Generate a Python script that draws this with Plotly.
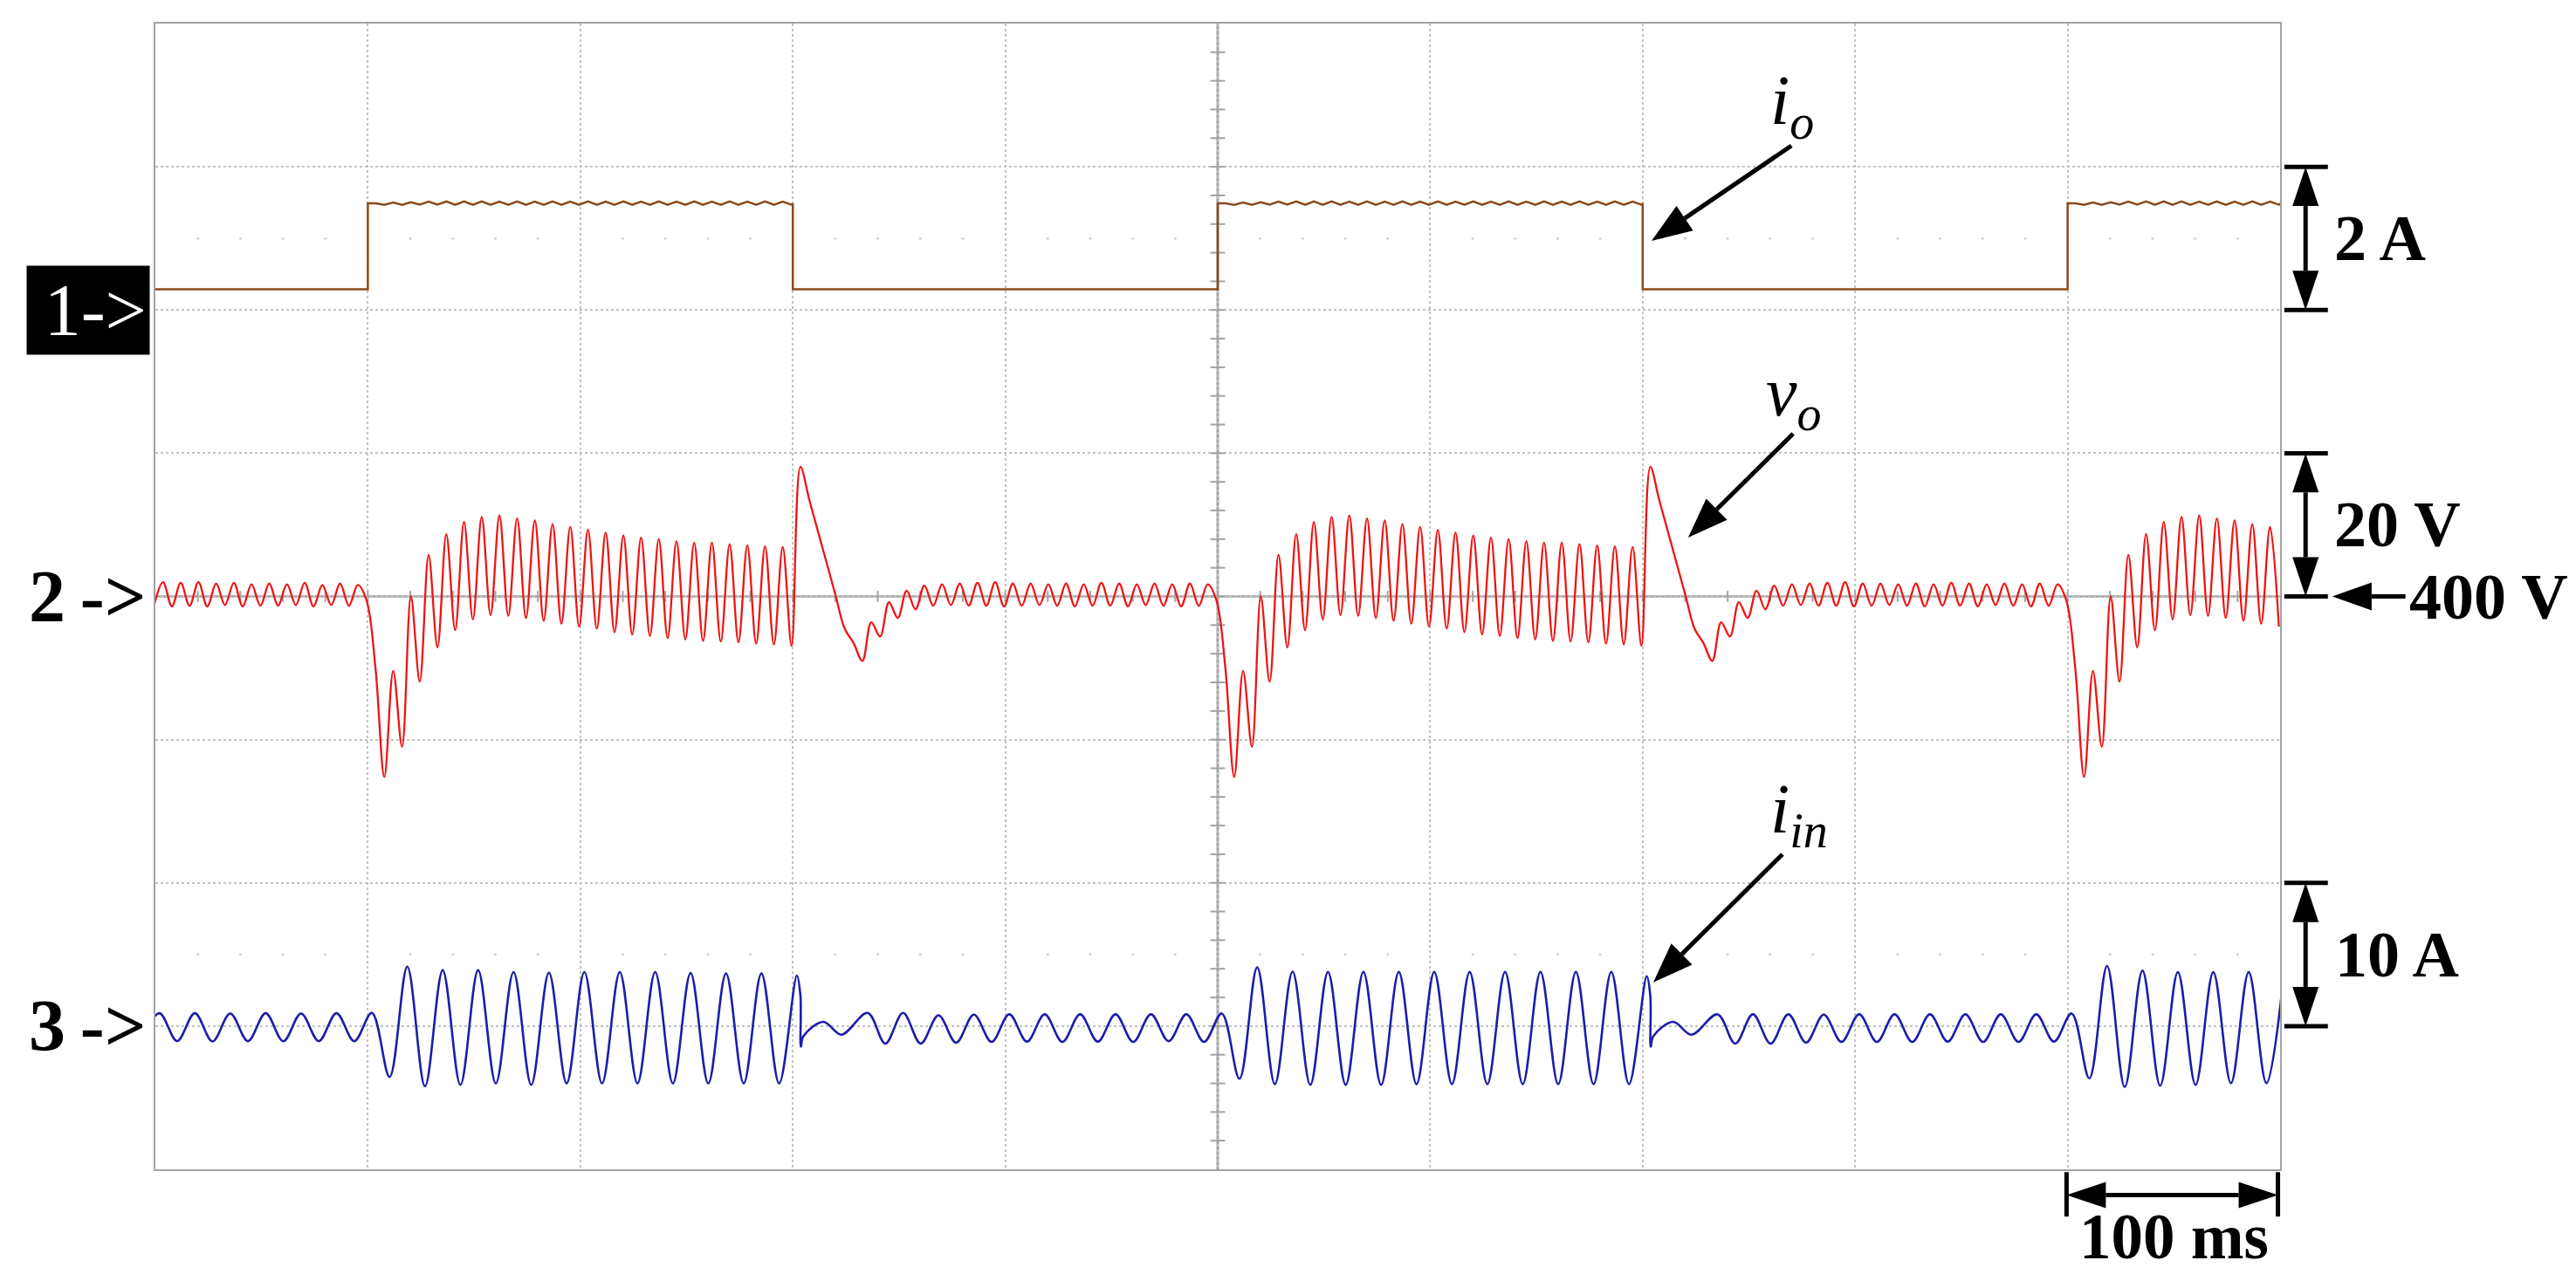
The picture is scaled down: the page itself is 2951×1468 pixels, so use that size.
import math
import plotly.graph_objects as go

# ---------------- layout geometry (page body adds an 8 px margin) ----------------
W, H = 2935, 1452
ML, MT = 170, 19
PW, PH = 2434, 1313
MR, MB = W - ML - PW, H - MT - PH

# ---------------- data ----------------
T_SPAN = 1000.0                    # ms, 10 div x 100 ms
STEP_UP = [100, 500, 900]          # load step-up instants (ms)
STEP_DOWN = [300, 700]             # load step-down instants (ms)

# output current i_o (A), 2 A/div
IO_LOW = 0.29
IO_HIGH = 1.49
IO_HIGH_RIPPLE = [1.49, 1.47, 1.50, 1.47, 1.505, 1.472, 1.512, 1.472, 1.515, 1.47,
                  1.515, 1.47, 1.515, 1.47, 1.514, 1.47, 1.515, 1.47, 1.513, 1.47,
                  1.515, 1.47, 1.514, 1.47, 1.515, 1.47, 1.514, 1.47, 1.515, 1.47,
                  1.513, 1.47, 1.515, 1.47, 1.514, 1.47, 1.515, 1.47, 1.514, 1.47,
                  1.515, 1.47, 1.513, 1.47, 1.515, 1.47, 1.514, 1.47]

# output voltage v_o (V), 20 V/div, extrema every half ripple period (120 Hz)
VO_T0 = -0.57
VO_HALF = 1000.0 / 240.0
VO_START = [398.8, 402.0, 398.6, 401.9, 398.7, 402.0, 398.6, 401.8, 398.8, 401.9,
            398.6, 401.7, 398.7, 401.8, 398.7, 401.7, 398.8, 401.9, 398.6, 401.6,
            398.8, 401.8, 398.7, 401.6, 399.4]
VO_STEP_UP = [390.0, 374.8, 389.6, 379.0, 400.0, 388.1, 405.8, 392.9, 408.7, 395.3,
              410.4, 396.8, 411.1, 397.4, 411.3, 397.3, 410.9, 397.0, 410.6, 396.6,
              410.1, 396.2, 409.7, 395.8, 409.3, 395.5, 408.9, 395.0, 408.5, 394.7,
              408.2, 394.5, 408.0, 394.2, 407.7, 394.0, 407.5, 393.8, 407.5, 393.7,
              407.3, 393.6, 407.1, 393.4, 407.0, 393.3, 406.9, 393.1]
VO_STEP_DOWN = [418.1, 413.5, 409.0, 404.5, 400.0, 395.5, 393.5, 391.0, 396.4, 394.4,
                399.2, 397.0, 400.8, 398.2, 401.5, 398.7, 401.7, 398.8, 401.8, 398.7,
                401.9, 398.7, 402.0, 398.6, 401.8, 398.7, 401.8, 398.8, 401.7, 398.7,
                401.8, 398.6, 401.7, 398.7, 401.9, 398.7, 401.8, 398.6, 401.7, 398.8,
                401.8, 398.7, 401.7, 398.6, 401.8, 398.7, 401.7, 399.4]

# input current i_in (A), 10 A/div, extrema every half line period (60 Hz)
IIN_T0 = 1.9
IIN_HALF = 1000.0 / 120.0
IIN_LOW_A = [-1.05, 0.9, -1.05, 0.9, -1.07, 0.88, -1.05, 0.9, -1.06, 0.88, -1.05, 0.9, -1.05, 0.92]
IIN_HIGH_A = [-3.55, 4.15, -4.2, 3.9, -4.1, 3.9, -4.0, 3.77, -4.1, 3.72, -4.0, 3.77,
              -4.0, 3.77, -4.0, 3.77, -4.0, 3.7, -4.0, 3.67, -4.0, 3.67, -4.0, 3.53]
IIN_DROP_DT = [3.6, 3.8, 5.0, 14.4, 22.9]
IIN_DROP_V = [2.1, -1.43, -0.71, 0.3, -0.6]
IIN_LOW_B = [0.92, -1.22, 0.92, -1.22, 0.75, -1.16, 0.8, -1.1, 0.82, -1.08, 0.82,
             -1.1, 0.82, -1.08, 0.82, -1.1, 0.82, -1.05, 0.82, -1.1, 0.88]
IIN_HIGH_B = [-3.67, 4.1, -4.05, 3.8, -4.1, 3.78, -4.1, 3.78, -4.1, 3.78, -4.05, 3.78,
              -4.05, 3.78, -4.05, 3.78, -4.05, 3.78, -4.05, 3.78, -4.05, 3.78, -4.05, 3.47]
IIN_LOW_C = [0.82, -1.22, 0.82, -1.22, 0.82, -1.15, 0.8, -1.1, 0.82, -1.1, 0.82,
             -1.1, 0.82, -1.08, 0.82, -1.1, 0.82, -1.1, 0.82, -1.08, 0.88]
IIN_HIGH_C = [-3.65, 4.2, -4.25, 3.87, -4.16, 3.76, -4.1, 3.76, -3.98, 3.76, -3.98, 3.8]

# channel scales
IO_PER_DIV, IO_REF_DIV = 2.0, 2.0
VO_PER_DIV, VO_REF, VO_REF_DIV = 20.0, 400.0, 0.0
IIN_PER_DIV, IIN_REF_DIV = 10.0, -3.0

# ---------------- assemble traces ----------------
vo_vals = VO_START + VO_STEP_UP + VO_STEP_DOWN + VO_STEP_UP + VO_STEP_DOWN + VO_STEP_UP[:24]
vo_t = [VO_T0 + k * VO_HALF for k in range(len(vo_vals))]

io_t, io_v = [0.0], [IO_LOW]
n_up = [48, 48, 24]
for i, tu in enumerate(STEP_UP):
    io_t += [tu, tu]
    io_v += [IO_LOW, IO_HIGH]
    k0 = int(round((tu + 3.6 - VO_T0) / VO_HALF))
    for m in range(n_up[i]):
        io_t.append(VO_T0 + (k0 + m) * VO_HALF)
        io_v.append(IO_HIGH_RIPPLE[m])
    if i < len(STEP_DOWN):
        td = STEP_DOWN[i]
        io_t += [td, td]
        io_v += [IO_HIGH, IO_LOW]
io_t.append(T_SPAN)
io_v.append(IO_HIGH)

iin_t, iin_v = [], []


def add_slots(j0, vals):
    for i, val in enumerate(vals):
        iin_t.append(IIN_T0 + (j0 + i) * IIN_HALF)
        iin_v.append(val)


def add_drop(t_step):
    for dt, val in zip(IIN_DROP_DT, IIN_DROP_V):
        iin_t.append(t_step + dt)
        iin_v.append(val)


add_slots(-1, IIN_LOW_A)
add_slots(13, IIN_HIGH_A)
add_drop(STEP_DOWN[0])
add_slots(40, IIN_LOW_B)
add_slots(61, IIN_HIGH_B)
add_drop(STEP_DOWN[1])
add_slots(88, IIN_LOW_C)
add_slots(109, IIN_HIGH_C)

# ---------------- figure ----------------
fig = go.Figure()

GRID = "#c2c2c2"
FRAME = "#a3a3a3"
SERIF = "Liberation Serif"

# decorative scope ticks / dots
tick_y = [i * 0.2 for i in range(-19, 20)]
fig.add_trace(go.Scatter(x=[500] * len(tick_y), y=tick_y, mode="markers",
                         marker=dict(symbol="line-ew", size=12, line=dict(width=2, color=FRAME)),
                         hoverinfo="skip", showlegend=False))
tick_x = [20 * i for i in range(1, 50)]
fig.add_trace(go.Scatter(x=tick_x, y=[0] * len(tick_x), mode="markers",
                         marker=dict(symbol="line-ns", size=9, line=dict(width=2, color=FRAME)),
                         hoverinfo="skip", showlegend=False))
dot_x = [20 * i for i in range(1, 50) if i % 5 != 0]
fig.add_trace(go.Scatter(x=dot_x + dot_x, y=[2.5] * len(dot_x) + [-2.5] * len(dot_x), mode="markers",
                         marker=dict(symbol="circle", size=3, color="#d2d2d2"),
                         hoverinfo="skip", showlegend=False))

fig.add_trace(go.Scatter(x=io_t, y=io_v, mode="lines", yaxis="y2",
                         line=dict(color="#8b4a1c", width=2.5), showlegend=False))
fig.add_trace(go.Scatter(x=vo_t, y=vo_vals, mode="lines", yaxis="y3",
                         line=dict(color="#ee1414", width=2.3, shape="spline", smoothing=1.0),
                         showlegend=False))
fig.add_trace(go.Scatter(x=iin_t, y=iin_v, mode="lines", yaxis="y4",
                         line=dict(color="#1d1daa", width=2.6, shape="spline", smoothing=1.0),
                         showlegend=False))

shapes = []
# solid centre cross lines
shapes.append(dict(type="line", xref="x", yref="y", x0=0, x1=T_SPAN, y0=0, y1=0,
                   line=dict(color=FRAME, width=2.5), layer="below"))
shapes.append(dict(type="line", xref="x", yref="y", x0=500, x1=500, y0=-4, y1=4,
                   line=dict(color=FRAME, width=3), layer="below"))


def to_px(ms, d):
    return ms * PW / T_SPAN, (d + 4) * PH / 8.0


def pp(X, Y):
    return X / PW, Y / PH


def paper_x(ms):
    return ms / T_SPAN


def paper_y(d):
    return (d + 4) / 8.0


def head(tip, frm, L, hw):
    tx, ty = to_px(*tip)
    fx, fy = to_px(*frm)
    dx, dy = tx - fx, ty - fy
    n = math.hypot(dx, dy)
    ux, uy = dx / n, dy / n
    bx, by = tx - L * ux, ty - L * uy
    c1 = (bx - hw * uy, by + hw * ux)
    c2 = (bx + hw * uy, by - hw * ux)
    pts = [pp(tx, ty), pp(*c1), pp(*c2)]
    path = "M {:.5f},{:.5f} L {:.5f},{:.5f} L {:.5f},{:.5f} Z".format(*pts[0], *pts[1], *pts[2])
    shapes.append(dict(type="path", xref="paper", yref="paper", path=path,
                       fillcolor="black", line=dict(width=0), layer="above"))
    return bx, by


def seg(X0, Y0, X1, Y1, w=5):
    a, b = pp(X0, Y0)
    c, d = pp(X1, Y1)
    shapes.append(dict(type="line", xref="paper", yref="paper", x0=a, y0=b, x1=c, y1=d,
                       line=dict(color="black", width=w), layer="above"))


def arrow(start, tip, L=46, hw=17, w=5):
    bx, by = head(tip, start, L, hw)
    sx, sy = to_px(*start)
    seg(sx, sy, bx, by, w)


def double_arrow(p0, p1, L=45, hw=15, w=5):
    b0 = head(p0, p1, L, hw)
    b1 = head(p1, p0, L, hw)
    seg(b0[0], b0[1], b1[0], b1[1], w)


def cap(p0, p1, w=5):
    a = to_px(*p0)
    b = to_px(*p1)
    seg(a[0], a[1], b[0], b[1], w)


# vertical scale bars on the right
BAR_X, CAP_X0, CAP_X1 = 1012.0, 1002.0, 1022.5
for top, bot in [(3, 2), (1, 0), (-2, -3)]:
    cap((CAP_X0, top), (CAP_X1, top))
    cap((CAP_X0, bot), (CAP_X1, bot))
    double_arrow((BAR_X, top), (BAR_X, bot))
# 400 V reference arrow
arrow((1059.0, 0.0), (1024.6, 0.0), L=45, hw=16)
# 100 ms time bar
cap((899.5, -4.02), (899.5, -4.33))
cap((999.0, -4.02), (999.0, -4.33))
double_arrow((899.5, -4.18), (999.0, -4.18), L=45, hw=15)
# label arrows
arrow((770.0, 3.147), (704.2, 2.483))
arrow((770.8, 1.136), (721.4, 0.411))
arrow((765.8, -1.80), (705.0, -2.695))

ann = []
BOLD = dict(family=SERIF, size=74, color="black", weight="bold")


def scale_label(ms, d, text, anchor="left", size=74):
    f = dict(BOLD)
    f["size"] = size
    ann.append(dict(x=paper_x(ms), y=paper_y(d), xref="paper", yref="paper", text=text,
                    showarrow=False, xanchor=anchor, yanchor="middle", font=f))


scale_label(1024.6, 2.5, "2 A")
scale_label(1024.6, 0.5, "20 V")
scale_label(1060.0, 0.0, "400 V")
scale_label(1025.0, -2.5, "10 A")
scale_label(950.0, -4.47, "100 ms", anchor="center", size=73)

CH = dict(family=SERIF, size=84, color="black", weight="bold")
ann.append(dict(x=0, y=paper_y(0.0), xref="paper", yref="paper", text="2&#8201;-&gt;", showarrow=False,
                xanchor="right", yanchor="middle", xshift=-8, font=CH))
ann.append(dict(x=0, y=paper_y(-3.0), xref="paper", yref="paper", text="3&#8201;-&gt;", showarrow=False,
                xanchor="right", yanchor="middle", xshift=-8, font=CH))
ann.append(dict(x=0, y=paper_y(2.0), xref="paper", yref="paper", text="1-&gt;", showarrow=False,
                xanchor="right", yanchor="middle", xshift=-6, align="right",
                width=134, height=95, bgcolor="black", borderpad=3,
                font=dict(family=SERIF, size=84, color="white")))

LAB = dict(family=SERIF, size=80, color="black")
ann.append(dict(x=paper_x(770.5), y=paper_y(3.43), xref="paper", yref="paper",
                text="<i>i</i><sub><i>o</i></sub>",
                showarrow=False, xanchor="center", yanchor="middle", font=LAB))
ann.append(dict(x=paper_x(771.0), y=paper_y(1.39), xref="paper", yref="paper",
                text="<i>v</i><sub><i>o</i></sub>",
                showarrow=False, xanchor="center", yanchor="middle", font=LAB))
ann.append(dict(x=paper_x(773.5), y=paper_y(-1.52), xref="paper", yref="paper",
                text="<i>i</i><sub><i>in</i></sub>",
                showarrow=False, xanchor="center", yanchor="middle", font=LAB))

axis_common = dict(showticklabels=False, ticks="", zeroline=False, showgrid=True,
                   gridcolor=GRID, griddash="dot", gridwidth=2,
                   showline=True, mirror=True, linecolor=FRAME, linewidth=2)

fig.update_layout(
    width=W, height=H,
    margin=dict(l=ML, r=MR, t=MT, b=MB, pad=0),
    paper_bgcolor="white", plot_bgcolor="white",
    showlegend=False,
    xaxis=dict(range=[0, T_SPAN], dtick=100, tick0=0, **axis_common),
    yaxis=dict(range=[-4, 4], dtick=1, tick0=0, **axis_common),
    yaxis2=dict(overlaying="y", visible=False,
                range=[(-4 - IO_REF_DIV) * IO_PER_DIV, (4 - IO_REF_DIV) * IO_PER_DIV]),
    yaxis3=dict(overlaying="y", visible=False,
                range=[VO_REF + (-4 - VO_REF_DIV) * VO_PER_DIV, VO_REF + (4 - VO_REF_DIV) * VO_PER_DIV]),
    yaxis4=dict(overlaying="y", visible=False,
                range=[(-4 - IIN_REF_DIV) * IIN_PER_DIV, (4 - IIN_REF_DIV) * IIN_PER_DIV]),
    shapes=shapes,
    annotations=ann,
)

fig.write_html("out.html")
